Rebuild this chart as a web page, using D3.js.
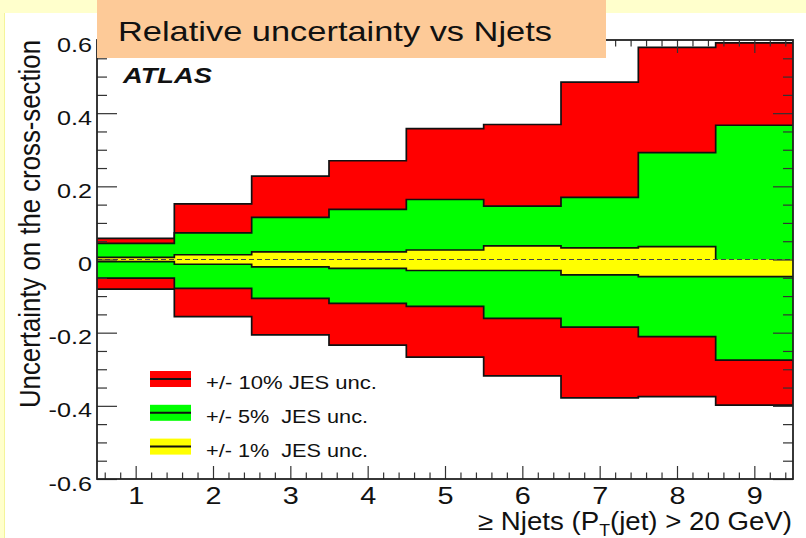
<!DOCTYPE html>
<html>
<head>
<meta charset="utf-8">
<script src="https://cdn.jsdelivr.net/npm/d3@7"></script>
<style>
  html, body { margin: 0; padding: 0; background: #fff; }
  svg { display: block; }
  text { font-family: "Liberation Sans", Arial, Helvetica, sans-serif; }
</style>
</head>
<body>
<svg id="chart" width="806" height="538"></svg>
<script>
// Jet multiplicity bins (>= N jets)
const nJets = [1, 2, 3, 4, 5, 6, 7, 8, 9];

// Relative cross-section uncertainty for each JES variation
const jes10Up   = [0.058, 0.152, 0.228, 0.270, 0.358, 0.369, 0.485, 0.580, 0.592];
const jes10Down = [-0.081, -0.156, -0.206, -0.234, -0.267, -0.318, -0.378, -0.375, -0.398];
const jes5Up    = [0.044, 0.073, 0.115, 0.137, 0.164, 0.146, 0.170, 0.292, 0.367];
const jes5Down  = [-0.051, -0.079, -0.106, -0.120, -0.128, -0.161, -0.185, -0.211, -0.275];
const jes1Up    = [0.006, 0.013, 0.021, 0.021, 0.026, 0.037, 0.032, 0.035, 0.000];
const jes1Down  = [-0.006, -0.013, -0.020, -0.024, -0.030, -0.030, -0.042, -0.047, -0.047];

// Axis ticks and labels
const yMajorTicks  = [-0.6, -0.4, -0.2, 0, 0.2, 0.4, 0.6];
const yTickLabels  = ["-0.6", "-0.4", "-0.2", "0", "0.2", "0.4", "0.6"];
const xTickLabels  = ["1", "2", "3", "4", "5", "6", "7", "8", "9"];

// Legend entries
const legendLabels = ["+/- 10% JES unc.", "+/- 5%  JES unc.", "+/- 1%  JES unc."];
const legendColors = ["#ff0000", "#00ff00", "#ffff00"];
const legendWidths = [171, 162, 162];

const svg = d3.select("#chart");
const W = 806, H = 538;
const frame = { left: 97, right: 793, top: 40, bottom: 479 };
const SX = 1.2; // horizontal glyph stretch

const x = d3.scaleLinear().domain([0.5, 9.5]).range([frame.left, frame.right]);
const y = d3.scaleLinear().domain([-0.6, 0.6]).range([frame.bottom, frame.top]);

// Canvas
svg.append("rect").attr("width", W).attr("height", H).attr("fill", "#ffffcc");
svg.append("line").attr("x1", 4.5).attr("x2", 4.5).attr("y1", 13).attr("y2", H)
  .attr("stroke", "#f4f49a").attr("stroke-width", 1);
svg.append("rect").attr("x", 5).attr("y", 13).attr("width", W - 5).attr("height", H - 13).attr("fill", "#fff");
svg.append("rect").attr("x", frame.left).attr("y", frame.top)
  .attr("width", frame.right - frame.left).attr("height", frame.bottom - frame.top).attr("fill", "#fff");

// Step-histogram bands
function bandPoints(up, down) {
  const pts = [];
  nJets.forEach((n, i) => {
    pts.push({ x: n - 0.5, hi: up[i], lo: down[i] });
    pts.push({ x: n + 0.5, hi: up[i], lo: down[i] });
  });
  return pts;
}
function edgePoints(vals) {
  const pts = [];
  nJets.forEach((n, i) => {
    pts.push([n - 0.5, vals[i]]);
    if (vals[i] !== 0) pts.push([n + 0.5, vals[i]]);
  });
  return pts;
}
const area = d3.area().x(d => x(d.x)).y0(d => y(d.lo)).y1(d => y(d.hi));
const edge = d3.line().x(d => x(d[0])).y(d => y(d[1]));

const bands = [
  { up: jes10Up, down: jes10Down, color: "#ff0000" },
  { up: jes5Up,  down: jes5Down,  color: "#00ff00" },
  { up: jes1Up,  down: jes1Down,  color: "#ffff00" }
];
const gBands = svg.append("g");
bands.forEach(b => {
  gBands.append("path").attr("d", area(bandPoints(b.up, b.down))).attr("fill", b.color);
  [b.up, b.down].forEach(vals => {
    gBands.append("path").attr("d", edge(edgePoints(vals)))
      .attr("fill", "none").attr("stroke", "#111").attr("stroke-width", 1.7)
      .attr("stroke-linejoin", "miter");
  });
});

// Zero reference line
svg.append("line").attr("x1", frame.left).attr("x2", frame.right)
  .attr("y1", y(0)).attr("y2", y(0))
  .attr("stroke", "#444").attr("stroke-width", 1.2).attr("stroke-dasharray", "5,3");

// Minor tick positions
const yMinor = d3.range(-0.55, 0.6, 0.05).map(v => +v.toFixed(2)).filter(v => Math.abs((v / 0.2) - Math.round(v / 0.2)) > 1e-6);
const xMinor = d3.range(0.6, 9.41, 0.2).map(v => +v.toFixed(1)).filter(v => Math.abs(v - Math.round(v)) > 1e-6);

function styleTicks(g) {
  g.select(".domain").remove();
  g.selectAll(".tick line").attr("stroke", "#333").attr("stroke-width", 1.2);
}

// Left axis
svg.append("g").attr("transform", `translate(${frame.left},0)`)
  .call(d3.axisLeft(y).tickValues(yMajorTicks).tickSize(-20).tickPadding(5)
    .tickFormat((d, i) => yTickLabels[i]))
  .call(styleTicks)
  .call(g => g.selectAll(".tick text")
    .attr("x", -5 / SX).attr("dy", 11).attr("transform", `scale(${SX},1)`)
    .attr("fill", "#111").attr("font-size", 21).attr("font-family", "Liberation Sans, Arial, sans-serif"));
svg.append("g").attr("transform", `translate(${frame.left},0)`)
  .call(d3.axisLeft(y).tickValues(yMinor).tickSize(-10).tickFormat(""))
  .call(styleTicks);

// Right axis (ticks only)
svg.append("g").attr("transform", `translate(${frame.right},0)`)
  .call(d3.axisRight(y).tickValues(yMajorTicks).tickSize(-20).tickFormat(""))
  .call(styleTicks);
svg.append("g").attr("transform", `translate(${frame.right},0)`)
  .call(d3.axisRight(y).tickValues(yMinor).tickSize(-10).tickFormat(""))
  .call(styleTicks);

// Bottom axis
svg.append("g").attr("transform", `translate(0,${frame.bottom})`)
  .call(d3.axisBottom(x).tickValues(nJets).tickSize(-13)
    .tickFormat((d, i) => xTickLabels[i]))
  .call(styleTicks)
  .call(g => g.selectAll(".tick text")
    .attr("y", 25).attr("dy", 0).attr("transform", `scale(${SX},1)`)
    .attr("fill", "#111").attr("font-size", 24).attr("font-family", "Liberation Sans, Arial, sans-serif"));
svg.append("g").attr("transform", `translate(0,${frame.bottom})`)
  .call(d3.axisBottom(x).tickValues(xMinor).tickSize(-6.5).tickFormat(""))
  .call(styleTicks);

// Top axis (ticks only)
svg.append("g").attr("transform", `translate(0,${frame.top})`)
  .call(d3.axisTop(x).tickValues(nJets).tickSize(-13).tickFormat(""))
  .call(styleTicks);
svg.append("g").attr("transform", `translate(0,${frame.top})`)
  .call(d3.axisTop(x).tickValues(xMinor).tickSize(-6.5).tickFormat(""))
  .call(styleTicks);

// Frame
svg.append("rect").attr("x", frame.left).attr("y", frame.top)
  .attr("width", frame.right - frame.left).attr("height", frame.bottom - frame.top)
  .attr("fill", "none").attr("stroke", "#222").attr("stroke-width", 1.8);

// Axis titles
svg.append("text")
  .attr("transform", `translate(40,224) scale(${SX},1) rotate(-90)`)
  .attr("text-anchor", "middle").attr("font-size", 25).attr("fill", "#111")
  .attr("textLength", 368).attr("lengthAdjust", "spacingAndGlyphs")
  .text("Uncertainty on the cross-section");

const xTitle = svg.append("text")
  .attr("x", 478).attr("y", 530).attr("font-size", 25).attr("fill", "#111")
  .attr("textLength", 314).attr("lengthAdjust", "spacingAndGlyphs");
xTitle.append("tspan").text("\u2265 Njets (P");
xTitle.append("tspan").attr("font-size", 16).attr("dy", 6).text("T");
xTitle.append("tspan").attr("dy", -6).text("(jet) > 20 GeV)");

// ATLAS label
svg.append("text").attr("x", 123).attr("y", 83)
  .attr("font-size", 22).attr("font-weight", "bold").attr("font-style", "italic").attr("fill", "#111")
  .attr("textLength", 89).attr("lengthAdjust", "spacingAndGlyphs")
  .text("ATLAS");

// Legend
const legend = svg.append("g");
legendLabels.forEach((lab, i) => {
  const cy = 379 + i * 33.8;
  legend.append("rect").attr("x", 150).attr("y", cy - 8).attr("width", 41).attr("height", 16)
    .attr("fill", legendColors[i]);
  legend.append("line").attr("x1", 150).attr("x2", 191).attr("y1", cy).attr("y2", cy)
    .attr("stroke", "#111").attr("stroke-width", 2);
  legend.append("text").attr("x", 206).attr("y", cy + 10.3)
    .attr("font-size", 18).attr("fill", "#111")
    .attr("textLength", legendWidths[i]).attr("lengthAdjust", "spacingAndGlyphs")
    .style("white-space", "pre").text(lab);
});

// Title banner
svg.append("rect").attr("x", 97).attr("y", 0).attr("width", 509).attr("height", 58).attr("fill", "#fdca98");
svg.append("text").attr("x", 118).attr("y", 41).attr("font-size", 28).attr("fill", "#111")
  .attr("textLength", 434).attr("lengthAdjust", "spacingAndGlyphs")
  .text("Relative uncertainty vs Njets");
</script>
</body>
</html>
